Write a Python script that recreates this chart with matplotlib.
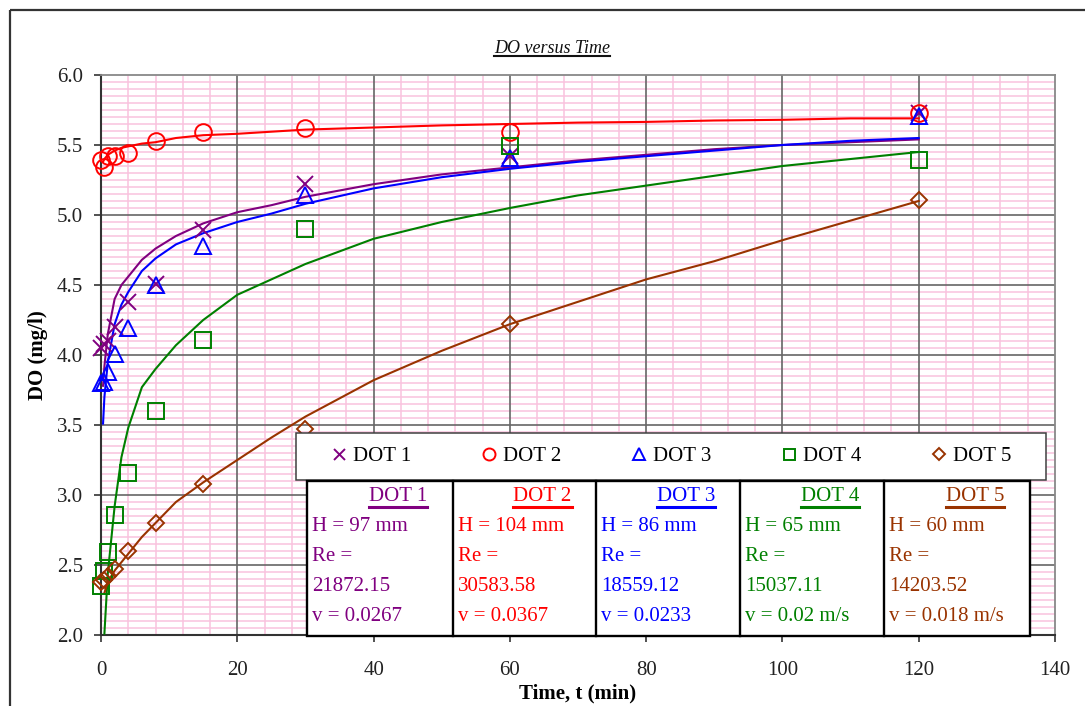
import matplotlib.pyplot as plt
import numpy as np
from matplotlib.ticker import MultipleLocator
from matplotlib.patches import Rectangle

plt.rcParams['font.family'] = ['Liberation Serif', 'DejaVu Serif']

# ---------- measured DO (mg/l) ----------
t_meas = [0, 0.5, 1, 2, 4, 8, 15, 30, 60, 120]
do_dot1 = [4.05, 4.08, 4.10, 4.20, 4.38, 4.51, 4.89, 5.22, 5.42, 5.73]
do_dot2 = [5.39, 5.34, 5.42, 5.42, 5.44, 5.53, 5.59, 5.62, 5.59, 5.73]
do_dot3 = [3.80, 3.81, 3.88, 4.01, 4.19, 4.50, 4.78, 5.14, 5.41, 5.71]
do_dot4 = [2.35, 2.46, 2.59, 2.86, 3.16, 3.60, 4.11, 4.90, 5.49, 5.39]
do_dot5 = [2.38, 2.39, 2.42, 2.47, 2.60, 2.80, 3.08, 3.47, 4.22, 5.11]

# ---------- fitted curves ----------
t_fit = [0.3, 0.5, 1, 2, 3, 4, 6, 8, 11, 15, 20, 25, 30, 40, 50, 60, 70, 80, 90, 100, 110, 120]
fit_dot1 = [3.78, 3.92, 4.15, 4.40, 4.50, 4.56, 4.68, 4.76, 4.85, 4.94, 5.02, 5.07, 5.13, 5.22, 5.29, 5.34, 5.39, 5.43, 5.47, 5.50, 5.52, 5.54]
fit_dot2 = [5.38, 5.40, 5.43, 5.46, 5.48, 5.49, 5.51, 5.52, 5.55, 5.57, 5.58, 5.595, 5.61, 5.625, 5.64, 5.65, 5.66, 5.665, 5.675, 5.68, 5.69, 5.69]
fit_dot3 = [3.51, 3.70, 3.95, 4.22, 4.36, 4.45, 4.60, 4.69, 4.79, 4.87, 4.95, 5.01, 5.08, 5.19, 5.27, 5.33, 5.38, 5.42, 5.46, 5.50, 5.53, 5.55]
t_fit2 = [0.5, 1, 2, 3, 4, 6, 8, 11, 15, 20, 25, 30, 40, 50, 60, 70, 80, 90, 100, 110, 120]
fit_dot4 = [2.01, 2.44, 2.92, 3.27, 3.48, 3.77, 3.90, 4.07, 4.25, 4.43, 4.54, 4.65, 4.83, 4.95, 5.05, 5.14, 5.21, 5.28, 5.35, 5.40, 5.45]
fit_dot5 = [2.30, 2.38, 2.46, 2.52, 2.58, 2.70, 2.80, 2.95, 3.09, 3.25, 3.41, 3.56, 3.82, 4.03, 4.22, 4.38, 4.54, 4.67, 4.82, 4.96, 5.10]

# ---------- table text ----------
names = ['DOT 1', 'DOT 2', 'DOT 3', 'DOT 4', 'DOT 5']
heights = ['H = 97 mm', 'H = 104 mm', 'H = 86 mm', 'H = 65 mm', 'H = 60 mm']
re_vals = ['21872.15', '30583.58', '18559.12', '15037.11', '14203.52']
vels = ['v = 0.0267', 'v = 0.0367', 'v = 0.0233', 'v = 0.02 m/s', 'v = 0.018 m/s']

colors = ['#800080', '#FF0000', '#0000FF', '#008000', '#993300']
markers = ['x', 'o', '^', 's', 'D']
msizes = [11, 12, 11.5, 11, 8.5]

meas = [do_dot1, do_dot2, do_dot3, do_dot4, do_dot5]
fits = [(t_fit, fit_dot1), (t_fit, fit_dot2), (t_fit, fit_dot3), (t_fit2, fit_dot4), (t_fit2, fit_dot5)]

W, H = 1085, 706
fig = plt.figure(figsize=(W / 100, H / 100), dpi=100)
ax = fig.add_axes([101 / W, 1 - 635 / H, (1055 - 101) / W, (635 - 75) / H])
ax.set_zorder(1)

for i in range(5):
    ax.plot(fits[i][0], fits[i][1], color=colors[i], lw=1.5, zorder=3)
    ax.plot(t_meas, meas[i], ls='none', marker=markers[i], ms=msizes[i], mfc='none',
            mec=colors[i], mew=1.4, label=names[i], clip_on=False, zorder=4)

ax.set_xlim(0, 140)
ax.set_ylim(2.0, 6.0)
ax.xaxis.set_major_locator(MultipleLocator(20))
ax.xaxis.set_minor_locator(MultipleLocator(4))
ax.yaxis.set_major_locator(MultipleLocator(0.5))
ax.yaxis.set_minor_locator(MultipleLocator(0.05))
ax.yaxis.set_major_formatter(plt.FormatStrFormatter('%.1f'))
ax.set_axisbelow(True)
ax.grid(which='minor', color='#F9C2DE', lw=1.1)
# dark major lines on top of the pink minor grid
for xv in ax.get_xticks():
    if 0 < xv < 140:
        ax.axvline(xv, color='#666666', lw=1.2, zorder=1)
for yv in ax.get_yticks():
    if 2.0 < yv < 6.0:
        ax.axhline(yv, color='#666666', lw=1.2, zorder=1)
ax.tick_params(which='minor', length=0)
ax.tick_params(which='major', direction='out', length=5, width=1.2, color='#333333',
               labelsize=15, colors='#222222')
ax.tick_params(axis='x', pad=14)
ax.tick_params(axis='y', pad=8)
for s in ['left', 'bottom']:
    ax.spines[s].set_color('#333333')
    ax.spines[s].set_linewidth(1.5)
for s in ['top', 'right']:
    ax.spines[s].set_color('#888888')
    ax.spines[s].set_linewidth(1.3)

ax.set_xlabel('Time, t (min)', fontsize=15, fontweight='bold', labelpad=2)
ax.set_ylabel('DO (mg/l)', fontsize=15, fontweight='bold', labelpad=6)

# overlay in pixel coordinates for frame, title, legend and parameter table
ov = fig.add_axes([0, 0, 1, 1])
ov.set_zorder(2)
ov.set_xlim(0, W)
ov.set_ylim(H, 0)
ov.axis('off')
ov.patch.set_alpha(0)

ov.add_patch(Rectangle((10, 10), 1200, 900, fill=False, ec='#333333', lw=1.6))

title = ov.text(552, 53, 'DO versus Time', fontsize=13, fontstyle='italic',
                ha='center', va='baseline', color='#111111')

# legend box
ov.add_patch(Rectangle((296, 433), 750, 47, fc='white', ec='#404040', lw=1.1, zorder=1))
handles, labels = ax.get_legend_handles_labels()
ov.legend(handles, labels, loc='center', bbox_to_anchor=(671 / W, 1 - 456.5 / H),
          bbox_transform=fig.transFigure, ncol=5, fontsize=15, frameon=False,
          handlelength=0.8, handletextpad=0.3, columnspacing=3.3, markerscale=0.72,
          borderpad=0, borderaxespad=0)

cols = [307, 453, 596, 740, 884, 1030]
ov.add_patch(Rectangle((cols[0], 481), cols[-1] - cols[0], 636 - 481, fc='white',
                       ec='black', lw=1.7))
for xc in cols[1:-1]:
    ov.plot([xc, xc], [481, 636], color='black', lw=1.7)

heads = []
for i in range(5):
    x0 = cols[i] + 5
    xm = (cols[i] + cols[i + 1]) / 2 + 18
    heads.append(ov.text(xm, 501, names[i], fontsize=15, color=colors[i], ha='center', va='baseline'))
    ov.text(x0, 531, heights[i], fontsize=15, color=colors[i], va='baseline')
    ov.text(x0, 561, 'Re =', fontsize=15, color=colors[i], va='baseline')
    ov.text(x0, 591, re_vals[i], fontsize=15, color=colors[i], va='baseline')
    ov.text(x0, 621, vels[i], fontsize=15, color=colors[i], va='baseline')

# underlines
fig.canvas.draw()
r = fig.canvas.get_renderer()
bb = title.get_window_extent(r)
ov.plot([bb.x0, bb.x1], [56, 56], color='#111111', lw=1.5)
for i, h in enumerate(heads):
    bb = h.get_window_extent(r)
    ov.plot([bb.x0, bb.x1], [506.5, 506.5], color=colors[i], lw=2.2)

fig.savefig('out.png', dpi=100)
